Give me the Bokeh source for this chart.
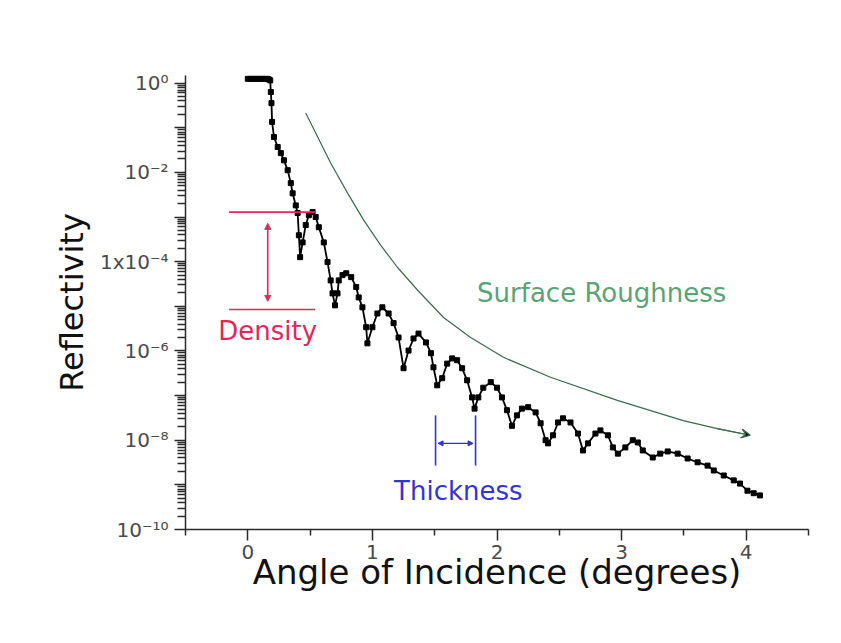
from bokeh.plotting import figure
from bokeh.models import (Range1d, FixedTicker, CustomJSTickFormatter, Arrow,
                          NormalHead, VeeHead, Label, ColumnDataSource)
from bokeh.embed import file_html
from bokeh.resources import INLINE

# X-ray reflectivity curve: angle of incidence (degrees) vs reflectivity
angle = [0.00, 0.02, 0.04, 0.06, 0.08, 0.10, 0.12, 0.14, 0.16, 0.17, 0.18,
         0.185, 0.19, 0.195, 0.21, 0.24, 0.265, 0.29, 0.32, 0.345, 0.36,
         0.385, 0.40, 0.41, 0.42, 0.44, 0.465, 0.49, 0.52, 0.545, 0.57,
         0.61, 0.64, 0.665, 0.68, 0.70, 0.72, 0.73, 0.76, 0.79, 0.83, 0.87,
         0.89, 0.92, 0.95, 0.96, 1.00, 1.04, 1.08, 1.13, 1.17, 1.21, 1.25,
         1.29, 1.33, 1.37, 1.43, 1.47, 1.49, 1.52, 1.56, 1.60, 1.64, 1.68,
         1.72, 1.76, 1.80, 1.82, 1.85, 1.89, 1.95, 2.00, 2.04, 2.08, 2.12,
         2.16, 2.20, 2.25, 2.31, 2.35, 2.39, 2.41, 2.45, 2.49, 2.53, 2.59,
         2.65, 2.69, 2.73, 2.79, 2.83, 2.89, 2.93, 2.97, 3.03, 3.09, 3.13,
         3.17, 3.25, 3.31, 3.37, 3.45, 3.53, 3.61, 3.69, 3.74, 3.82, 3.90,
         3.95, 4.01, 4.06, 4.11]
reflectivity = [1.25, 1.25, 1.25, 1.25, 1.25, 1.25, 1.25, 1.25, 1.25, 1.2, 1.15,
                0.63, 0.355, 0.135, 0.062, 0.037, 0.027, 0.0186, 0.0112, 5.75e-3, 3.39e-3,
                1.82e-3, 1.23e-3, 3.9e-4, 1.26e-4, 2.7e-4, 6.6e-4, 1.1e-3, 1.29e-3, 1.0e-3, 5.9e-4,
                2.7e-4, 9.8e-5, 3.8e-5, 1.95e-5, 1.05e-5, 1.95e-5, 3.8e-5, 5.0e-5, 5.5e-5, 4.5e-5, 2.7e-5,
                1.58e-5, 9.5e-6, 3.4e-6, 1.48e-6, 3.4e-6, 6.9e-6, 9.5e-6, 6.9e-6, 4.2e-6, 2.0e-6, 4.1e-7,
                1.02e-6, 1.9e-6, 2.45e-6, 1.55e-6, 8.9e-7, 4.3e-7, 1.7e-7, 2.45e-7, 5.2e-7, 6.8e-7, 6.2e-7,
                4.1e-7, 2.2e-7, 9.1e-8, 5.1e-8, 9.1e-8, 1.5e-7, 2.0e-7, 1.5e-7, 9.1e-8, 4.7e-8, 2.1e-8,
                3.6e-8, 5.1e-8, 5.5e-8, 4.2e-8, 2.4e-8, 1.0e-8, 8.5e-9, 1.29e-8, 2.5e-8, 3.1e-8, 2.5e-8,
                1.41e-8, 5.9e-9, 8.5e-9, 1.41e-8, 1.66e-8, 1.29e-8, 6.9e-9, 5.0e-9, 6.9e-9, 1.0e-8, 8.9e-9,
                5.9e-9, 4.1e-9, 5.0e-9, 5.6e-9, 5.0e-9, 3.9e-9, 3.2e-9, 2.7e-9, 2.1e-9, 1.62e-9, 1.26e-9,
                1.07e-9, 7.4e-10, 6.5e-10, 5.8e-10]

# Envelope sketched for the surface-roughness decay
rough_angle = [0.465, 0.561, 0.665, 0.802, 0.930, 1.066, 1.202, 1.363, 1.571,
               1.788, 2.052, 2.429, 2.966, 3.495, 3.768, 4.032]
rough_level = [0.214, 0.0617, 0.0162, 3.39e-3, 8.5e-4, 2.34e-4, 7.4e-5, 2.29e-5,
               5.6e-6, 2.0e-6, 7.2e-7, 2.57e-7, 7.8e-8, 2.75e-8, 1.82e-8, 1.29e-8]

# Density bracket (critical-edge plateau vs first fringe)
density_x = [-0.15, 0.54]
density_levels = [1.29e-3, 8.5e-6]
density_arrow_x = 0.16
density_arrow_span = [7.2e-4, 1.29e-5]
density_label_pos = (0.16, 2.75e-6)

# Thickness bracket (one fringe period)
thickness_x = [1.507, 1.828]
thickness_span = [3.6e-8, 2.7e-9]
thickness_arrow_level = 8.5e-9
thickness_label_pos = (1.69, 7.4e-10)

roughness_label_pos = (2.84, 1.95e-5)

x_ticks = [0, 1, 2, 3, 4]
x_minor = [-0.5, 0.5, 1.5, 2.5, 3.5, 4.5]
y_ticks = [1.0, 0.1, 0.01, 1e-3, 1e-4, 1e-5, 1e-6, 1e-7, 1e-8, 1e-9, 1e-10]
y_minor = [m * d for d in y_ticks[1:] for m in (2, 3, 4, 5, 6, 7, 8, 9)]
# one label per decade, counted down from 10^0; odd decades carry a tick only
y_tick_labels = ["10\u2070", "", "10\u207b\u00b2", "", "1x10\u207b\u2074", "",
                 "10\u207b\u2076", "", "10\u207b\u2078", "", "10\u207b\u00b9\u2070"]

FONT = "DejaVu Sans"
RED = "#e3265a"
BLUE = "#3434d0"
GREEN_TXT = "#5aa374"
GREEN_LINE = "#3c6a4c"
AXIS = "#2a2a2a"

p = figure(width=841, height=643, y_axis_type="log",
           x_range=Range1d(-0.5, 4.5), y_range=Range1d(1e-10, 10 ** 0.17),
           output_backend="svg", toolbar_location=None,
           min_border_left=185, min_border_right=33,
           min_border_top=75, min_border_bottom=114)
p.outline_line_color = None
p.xgrid.visible = False
p.ygrid.visible = False
p.background_fill_color = "white"
p.border_fill_color = "white"

# Axes
p.xaxis.ticker = FixedTicker(ticks=x_ticks, minor_ticks=x_minor)
p.yaxis.ticker = FixedTicker(ticks=y_ticks, minor_ticks=y_minor)
p.yaxis.formatter = CustomJSTickFormatter(
    args=dict(labels=y_tick_labels),
    code="const i = Math.round(-Math.log10(tick)); return labels[i] ?? '';")

xa = p.xaxis[0]
ya = p.yaxis[0]
for ax in (xa, ya):
    ax.axis_line_color = AXIS
    ax.axis_line_width = 1.5
    ax.major_tick_line_color = AXIS
    ax.major_tick_line_width = 1.5
    ax.major_tick_out = 11
    ax.major_tick_in = 0
    ax.minor_tick_line_width = 1.5
    ax.minor_tick_line_color = AXIS
    ax.minor_tick_in = 0
    ax.major_label_text_font = FONT
    ax.major_label_text_font_size = "20px"
    ax.major_label_text_color = "#4a4a4a"
    ax.axis_label_text_font = FONT
    ax.axis_label_text_font_style = "normal"
    ax.axis_label_text_color = "#111111"
xa.minor_tick_out = 6
ya.minor_tick_out = 8

p.xaxis.axis_label = "Angle of Incidence (degrees)"
p.xaxis.axis_label_text_font_size = "34px"
p.xaxis.major_label_standoff = 4
p.xaxis.axis_label_standoff = -10
p.yaxis.axis_label = "Reflectivity"
p.yaxis.axis_label_text_font_size = "32px"
p.yaxis.major_label_standoff = 6
p.yaxis.axis_label_standoff = 6

# Reflectivity data
src = ColumnDataSource(data=dict(x=angle, y=reflectivity))
p.line("x", "y", source=src, line_color="black", line_width=1.8)
p.scatter("x", "y", source=src, marker="square", size=5,
          fill_color="black", line_color="black")

# Roughness envelope with arrowhead
p.line(rough_angle, rough_level, line_color=GREEN_LINE, line_width=1.2)
p.add_layout(Arrow(end=VeeHead(size=9, line_color=GREEN_LINE, line_width=1.2),
                   x_start=rough_angle[-2], y_start=rough_level[-2],
                   x_end=rough_angle[-1], y_end=rough_level[-1],
                   line_color=GREEN_LINE, line_width=1.2))
p.add_layout(Label(x=roughness_label_pos[0], y=roughness_label_pos[1],
                   text="Surface Roughness", text_font=FONT, text_font_size="26px",
                   text_color=GREEN_TXT, text_align="center", text_baseline="middle"))

# Density bracket
for lvl in density_levels:
    p.line(density_x, [lvl, lvl], line_color=RED, line_width=1.6)
p.add_layout(Arrow(start=NormalHead(size=6, fill_color=RED, line_color=RED),
                   end=NormalHead(size=6, fill_color=RED, line_color=RED),
                   x_start=density_arrow_x, y_start=density_arrow_span[0],
                   x_end=density_arrow_x, y_end=density_arrow_span[1],
                   line_color=RED, line_width=1.6))
p.add_layout(Label(x=density_label_pos[0], y=density_label_pos[1], text="Density",
                   text_font=FONT, text_font_size="26px", text_color=RED,
                   text_align="center", text_baseline="middle"))

# Thickness bracket
for tx in thickness_x:
    p.line([tx, tx], thickness_span, line_color=BLUE, line_width=1.6)
p.add_layout(Arrow(start=NormalHead(size=5, fill_color=BLUE, line_color=BLUE),
                   end=NormalHead(size=5, fill_color=BLUE, line_color=BLUE),
                   x_start=thickness_x[0] + 0.02, y_start=thickness_arrow_level,
                   x_end=thickness_x[1] - 0.02, y_end=thickness_arrow_level,
                   line_color=BLUE, line_width=1.4))
p.add_layout(Label(x=thickness_label_pos[0], y=thickness_label_pos[1], text="Thickness",
                   text_font=FONT, text_font_size="26px", text_color=BLUE,
                   text_align="center", text_baseline="middle"))

open("out.html", "w").write(file_html(p, INLINE))
